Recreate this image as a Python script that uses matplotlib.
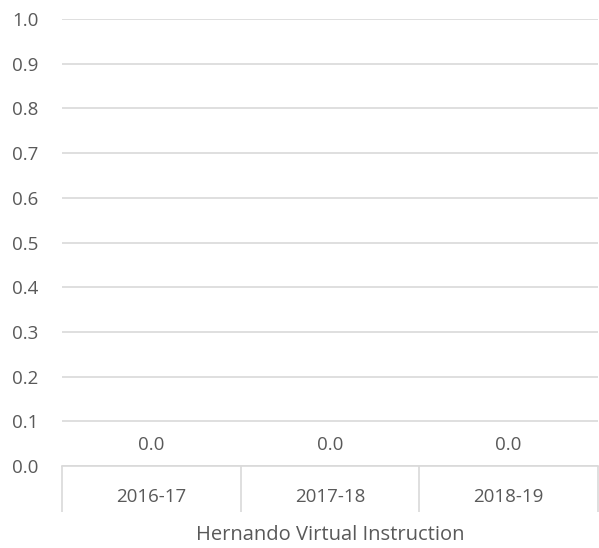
import matplotlib
matplotlib.use("Agg")
import matplotlib.pyplot as plt
import numpy as np

categories = ["2016-17", "2017-18", "2018-19"]
values = [0.0, 0.0, 0.0]
group_label = "Hernando Virtual Instruction"
yticks = [0.0, 0.1, 0.2, 0.3, 0.4, 0.5, 0.6, 0.7, 0.8, 0.9, 1.0]

TEXT = "#595959"
GRID = "#D9D9D9"
plt.rcParams['font.family'] = ['Open Sans', 'DejaVu Sans']

W, H = 599, 548
fig = plt.figure(figsize=(W / 100, H / 100), dpi=100)
left, right = 62 / W, 598 / W
bottom, top = 1 - 466 / H, 1 - 19 / H
ax = fig.add_axes([left, bottom, right - left, top - bottom])

x = np.arange(len(categories))
bars = ax.bar(x, values, width=0.6, color="#4472C4")
ax.bar_label(bars, labels=[f"{v:.1f}" for v in values], padding=9,
             color=TEXT, fontsize=13.5)

ax.set_xlim(-0.5, len(categories) - 0.5)
ax.set_ylim(0, 1.0)
ax.set_yticks(yticks)
ax.set_yticklabels([f"{t:.1f}" for t in yticks], color=TEXT, fontsize=13.5)
ax.yaxis.grid(True, color=GRID, linewidth=1.2)
ax.set_axisbelow(True)
ax.tick_params(axis="y", length=0, pad=17)

ax.set_xticks(x)
ax.set_xticklabels(categories, color=TEXT, fontsize=13.5)
ax.tick_params(axis="x", which="major", length=0, pad=16)
ax.set_xticks(np.arange(-0.5, len(categories)), minor=True)
ax.tick_params(axis="x", which="minor", length=33, width=1.2, color=GRID, direction="out")

for s in ["top", "right", "left"]:
    ax.spines[s].set_visible(False)
ax.spines["bottom"].set_color(GRID)
ax.spines["bottom"].set_linewidth(1.2)

ax.set_xlabel(group_label, color=TEXT, fontsize=14.5, labelpad=6)

fig.savefig("out.png", dpi=100)
